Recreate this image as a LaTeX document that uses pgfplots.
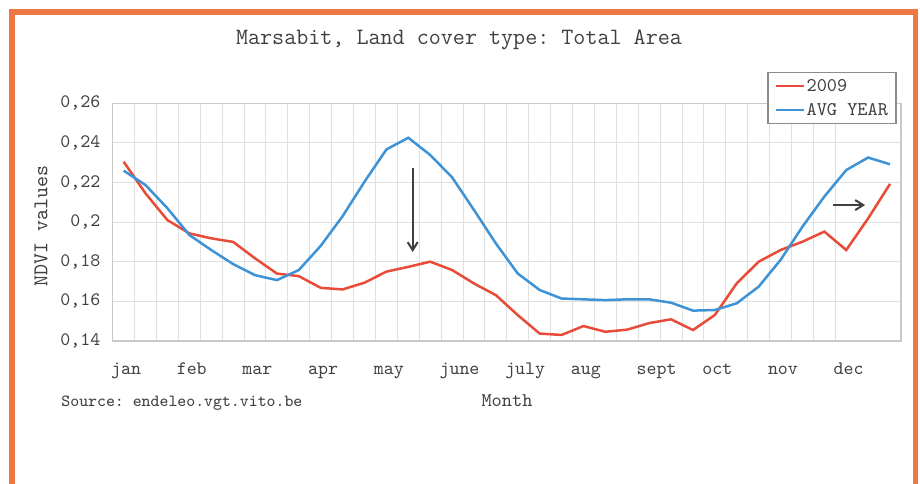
\documentclass[border=0pt]{standalone}
\usepackage{pgfplots}
\pgfplotsset{compat=1.18}
\usepackage{fontspec}
\usetikzlibrary{arrows.meta}
\definecolor{frameorange}{RGB}{238,120,68}
\definecolor{redline}{RGB}{232,76,56}
\definecolor{blueline}{RGB}{62,146,214}
\definecolor{gridgray}{RGB}{224,224,224}
\definecolor{axisgray}{RGB}{200,200,200}
\definecolor{txtgray}{RGB}{64,64,64}
\definecolor{legendgray}{RGB}{140,140,140}
\frenchspacing
\newcommand{\legfont}{\ttfamily\fontsize{9.7}{11}\selectfont}

\pgfplotstableread{
i v
0 0.2305
1 0.2145
2 0.2010
3 0.1943
4 0.1918
5 0.1900
6 0.1817
7 0.1740
8 0.1727
9 0.1668
10 0.1660
11 0.1694
12 0.1750
13 0.1774
14 0.1800
15 0.1758
16 0.1690
17 0.1631
18 0.1530
19 0.1437
20 0.1430
21 0.1475
22 0.1446
23 0.1457
24 0.1490
25 0.1509
26 0.1455
27 0.1531
28 0.1691
29 0.1800
30 0.1859
31 0.1901
32 0.1952
33 0.1859
34 0.2019
35 0.2193
}\redtable

\pgfplotstableread{
i v
0 0.2260
1 0.2187
2 0.2070
3 0.1935
4 0.1859
5 0.1788
6 0.1732
7 0.1707
8 0.1758
9 0.1880
10 0.2030
11 0.2204
12 0.2367
13 0.2426
14 0.2339
15 0.2226
16 0.2061
17 0.1892
18 0.1740
19 0.1657
20 0.1614
21 0.1610
22 0.1606
23 0.1610
24 0.1610
25 0.1593
26 0.1553
27 0.1556
28 0.1590
29 0.1674
30 0.1809
31 0.1977
32 0.2129
33 0.2263
34 0.2326
35 0.2292
}\bluetable

\begin{document}
\begin{tikzpicture}
\useasboundingbox (0,0) rectangle (460pt,241.5pt);
\fill[white] (0,0) rectangle (460pt,241.5pt);
\draw[line width=2.85pt, draw=frameorange] (6.1pt,-20pt) -- (6.1pt,235.4pt) -- (457.75pt,235.4pt) -- (457.75pt,-20pt);
\begin{axis}[
  at={(56.35pt,71.05pt)}, anchor=south west,
  scale only axis, width=394.15pt, height=118.8pt,
  xmin=-0.5, xmax=35.5, ymin=0.14, ymax=0.26,
  xtick={-0.5,2.5,...,32.5},
  xticklabels={jan,feb,mar,apr,may,june,july,aug,sept,oct,nov,dec},
  minor x tick num=2,
  ytick={0.14,0.16,0.18,0.20,0.22,0.24,0.26},
  yticklabels={{0,14},{0,16},{0,18},{0,2},{0,22},{0,24},{0,26}},
  grid=both,
  major grid style={draw=gridgray, line width=0.5pt},
  minor grid style={draw=gridgray, line width=0.5pt},
  axis line style={draw=axisgray, line width=0.6pt},
  major tick length=0pt, minor tick length=0pt,
  tick style={draw=none},
  xticklabel style={anchor=base west, yshift=-17pt, xshift=-1pt, inner sep=0pt, font=\ttfamily\fontsize{9.5}{11}\selectfont, text=txtgray},
  yticklabel style={anchor=east, xshift=-6pt, inner sep=0pt, font=\ttfamily\fontsize{9.5}{11}\selectfont, text=txtgray},
  title={Marsabit, Land cover type: Total Area},
  title style={at={(0.4393,1.1949)}, anchor=base, inner sep=0pt, font=\ttfamily\fontsize{11.7}{13}\selectfont, text=txtgray},
  xlabel={Month},
  xlabel style={at={(0.5002,-0.2765)}, anchor=base, inner sep=0pt, font=\ttfamily\fontsize{9.7}{11}\selectfont, text=txtgray},
  ylabel={NDVI values},
  ylabel style={at={(-0.091,0.4836)}, anchor=center, inner sep=0pt, font=\ttfamily\fontsize{10.5}{12}\selectfont, text=txtgray},
  legend style={at={(0.9946,1.133)}, anchor=north east, draw=legendgray, line width=0.7pt, fill=white,
    inner xsep=3.2pt, inner ysep=2.2pt, font=\legfont, text=txtgray, row sep=3pt,
    nodes={inner sep=0.8pt, text height=6.5pt, text depth=1pt, font=\legfont}},
  legend cell align=left,
  legend image code/.code={\draw[#1, line width=1.25pt] (0pt,0pt) -- (14pt,0pt);},
  clip=false,
]
\addplot[redline, line width=1.25pt] table[x=i, y=v] {\redtable};
\addlegendentry{\legfont 2009}
\addplot[blueline, line width=1.25pt] table[x=i, y=v] {\bluetable};
\addlegendentry{\legfont AVG YEAR}
\draw[-{Straight Barb[length=4pt,width=5pt]}, line width=1pt, draw=black!75] (axis cs:13.2,0.2273) -- (axis cs:13.2,0.1849);
\draw[-{Straight Barb[length=4pt,width=5pt]}, line width=1pt, draw=black!75] (axis cs:32.41,0.2086) -- (axis cs:33.86,0.2086);
\end{axis}
\node[anchor=base west, inner sep=0pt, font=\ttfamily\fontsize{8.5}{10}\selectfont, text=txtgray] at (30.5pt,38.5pt) {Source: endeleo.vgt.vito.be};
\end{tikzpicture}
\end{document}
